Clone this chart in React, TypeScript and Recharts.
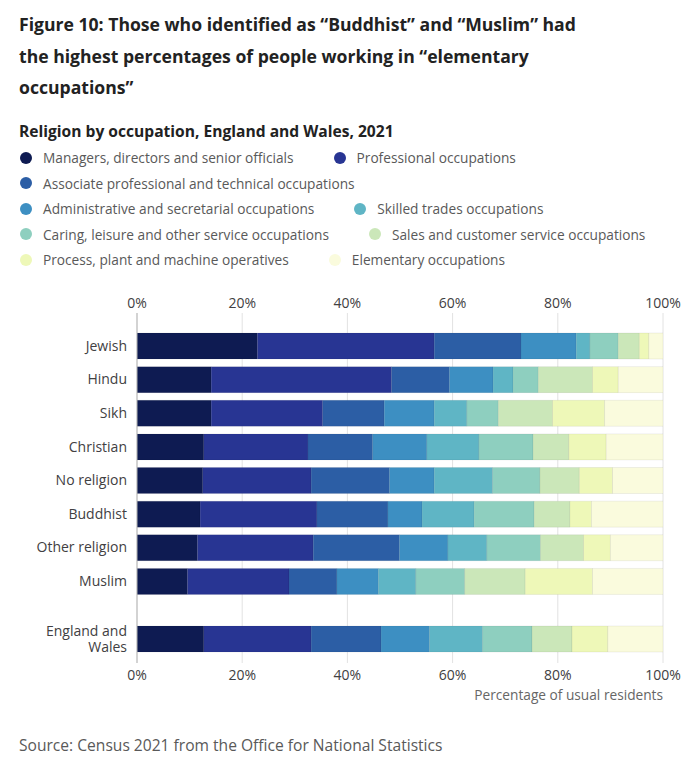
import { BarChart, Bar, XAxis, YAxis, CartesianGrid, ReferenceLine } from "recharts"

// rows: Jewish, Hindu, Sikh, Christian, No religion, Buddhist, Other religion, Muslim, England and Wales
const religions = ["Jewish", "Hindu", "Sikh", "Christian", "No religion", "Buddhist", "Other religion", "Muslim"]
const overall = "England and Wales"

const occupations = [
  "Managers, directors and senior officials",
  "Professional occupations",
  "Associate professional and technical occupations",
  "Administrative and secretarial occupations",
  "Skilled trades occupations",
  "Caring, leisure and other service occupations",
  "Sales and customer service occupations",
  "Process, plant and machine operatives",
  "Elementary occupations",
]
const colours = ["#0e1b52", "#283593", "#2c5ea5", "#3d8fc2", "#5fb5c5", "#8ecfbf", "#cbe7b9", "#eef8b8", "#fafbdd"]

const managers = [22.9, 14.1, 14.1, 12.7, 12.5, 12.0, 11.5, 9.6, 12.7]
const professional = [33.6, 34.3, 21.2, 19.8, 20.6, 22.2, 22.0, 19.3, 20.4]
const associate = [16.5, 11.0, 11.7, 12.3, 14.9, 13.5, 16.4, 9.1, 13.3]
const administrative = [10.5, 8.3, 9.5, 10.3, 8.5, 6.5, 9.2, 7.9, 9.2]
const skilledTrades = [2.6, 3.8, 6.2, 9.9, 11.1, 9.9, 7.4, 7.1, 10.1]
const caring = [5.4, 4.8, 6.0, 10.3, 9.0, 11.4, 10.2, 9.3, 9.4]
const sales = [4.0, 10.3, 10.3, 6.8, 7.5, 6.8, 8.2, 11.5, 7.6]
const process = [1.8, 4.9, 9.9, 7.1, 6.3, 4.1, 5.1, 12.8, 6.8]
const elementary = [2.7, 8.5, 11.1, 10.8, 9.6, 13.6, 10.0, 13.4, 10.5]

const xTicks = [0, 20, 40, 60, 80, 100]

const series = [managers, professional, associate, administrative, skilledTrades, caring, sales, process, elementary]
const keys = occupations.map((_, i) => `s${i}`)

const rows = [...religions, overall].map((name, i) => {
  const row: Record<string, string | number> = { name }
  keys.forEach((k, j) => {
    row[k] = series[j][i]
  })
  return row
})
const religionRows = rows.slice(0, religions.length)
const overallRows = rows.slice(religions.length)

const FONT = "'Open Sans', sans-serif"
const pct = (v: number) => `${v}%`

function CategoryTick({ x, y, payload }: any) {
  const label: string = payload.value
  const cut = label.lastIndexOf(" ")
  const lines = label.length > 14 ? [label.slice(0, cut), label.slice(cut + 1)] : [label]
  const start = y - ((lines.length - 1) * 16) / 2
  return (
    <g>
      {lines.map((l, i) => (
        <text
          key={i}
          x={x}
          y={start + i * 16}
          dy="0.35em"
          textAnchor="end"
          fill="#414042"
          fontSize={14}
          fontFamily={FONT}
        >
          {l}
        </text>
      ))}
    </g>
  )
}

function stackBars() {
  return keys.map((k, i) => (
    <Bar
      key={k}
      dataKey={k}
      stackId="a"
      fill={colours[i]}
      stroke="#000"
      strokeOpacity={0.06}
      strokeWidth={1}
      barSize={26}
      isAnimationActive={false}
    />
  ))
}

const tickStyle = { fill: "#414042", fontSize: 14, fontFamily: FONT }

export default function App() {
  return (
    <div
      style={{
        position: "absolute",
        left: 0,
        top: 0,
        width: 700,
        height: 762,
        background: "#fff",
        fontFamily: FONT,
        color: "#222",
      }}
    >
      <div
        style={{
          position: "absolute",
          left: 19,
          top: 9,
          fontSize: 17.6,
          fontWeight: 700,
          lineHeight: "31.5px",
          whiteSpace: "nowrap",
        }}
      >
        Figure 10: Those who identified as “Buddhist” and “Muslim” had
        <br />
        the highest percentages of people working in “elementary
        <br />
        occupations”
      </div>

      <div style={{ position: "absolute", left: 19, top: 120, fontSize: 15.6, fontWeight: 700, lineHeight: "22px" }}>
        Religion by occupation, England and Wales, 2021
      </div>

      <div
        style={{
          position: "absolute",
          left: 20,
          top: 145,
          width: 652,
          display: "flex",
          flexWrap: "wrap",
          columnGap: 40,
        }}
      >
        {occupations.map((o, i) => (
          <div key={o} style={{ display: "flex", alignItems: "center", height: 25.5, fontSize: 13.7, color: "#595959" }}>
            <span
              style={{ width: 12, height: 12, borderRadius: "50%", background: colours[i], marginRight: 11, flexShrink: 0 }}
            />
            {o}
          </div>
        ))}
      </div>

      <div style={{ position: "absolute", left: 0, top: 280 }}>
        <BarChart
          width={700}
          height={330}
          data={religionRows}
          layout="vertical"
          margin={{ top: 13, right: 37, bottom: 0, left: 0 }}
        >
          <CartesianGrid horizontal={false} stroke="#e2e2e2" />
          <XAxis
            type="number"
            orientation="top"
            domain={[0, 100]}
            allowDataOverflow
            ticks={xTicks}
            tickFormatter={pct}
            axisLine={false}
            tickLine={false}
            tickSize={5}
            tickMargin={0}
            height={20}
            tick={tickStyle}
          />
          <YAxis
            type="category"
            dataKey="name"
            width={137}
            axisLine={false}
            tickLine={false}
            tickSize={0}
            tickMargin={10}
            padding={{ top: 16, bottom: 12 }}
            tick={<CategoryTick />}
          />
          <ReferenceLine x={0} stroke="#b5b5b5" />
          {stackBars()}
        </BarChart>
      </div>

      <div style={{ position: "absolute", left: 0, top: 610 }}>
        <BarChart
          width={700}
          height={83}
          data={overallRows}
          layout="vertical"
          margin={{ top: 0, right: 37, bottom: 0, left: 0 }}
        >
          <CartesianGrid horizontal={false} stroke="#e2e2e2" />
          <XAxis
            type="number"
            orientation="bottom"
            domain={[0, 100]}
            allowDataOverflow
            ticks={xTicks}
            tickFormatter={pct}
            axisLine={false}
            tickLine={false}
            tickSize={7}
            tickMargin={0}
            height={30}
            tick={tickStyle}
          />
          <YAxis
            type="category"
            dataKey="name"
            width={137}
            axisLine={false}
            tickLine={false}
            tickSize={0}
            tickMargin={10}
            padding={{ top: 5, bottom: 0 }}
            tick={<CategoryTick />}
          />
          <ReferenceLine x={0} stroke="#b5b5b5" />
          {stackBars()}
        </BarChart>
      </div>

      <div
        style={{
          position: "absolute",
          right: 37,
          top: 684,
          fontSize: 13.7,
          color: "#666",
          lineHeight: "22px",
        }}
      >
        Percentage of usual residents
      </div>

      <div style={{ position: "absolute", left: 19, top: 734, fontSize: 15.6, color: "#595959", lineHeight: "22px" }}>
        Source: Census 2021 from the Office for National Statistics
      </div>
    </div>
  )
}
